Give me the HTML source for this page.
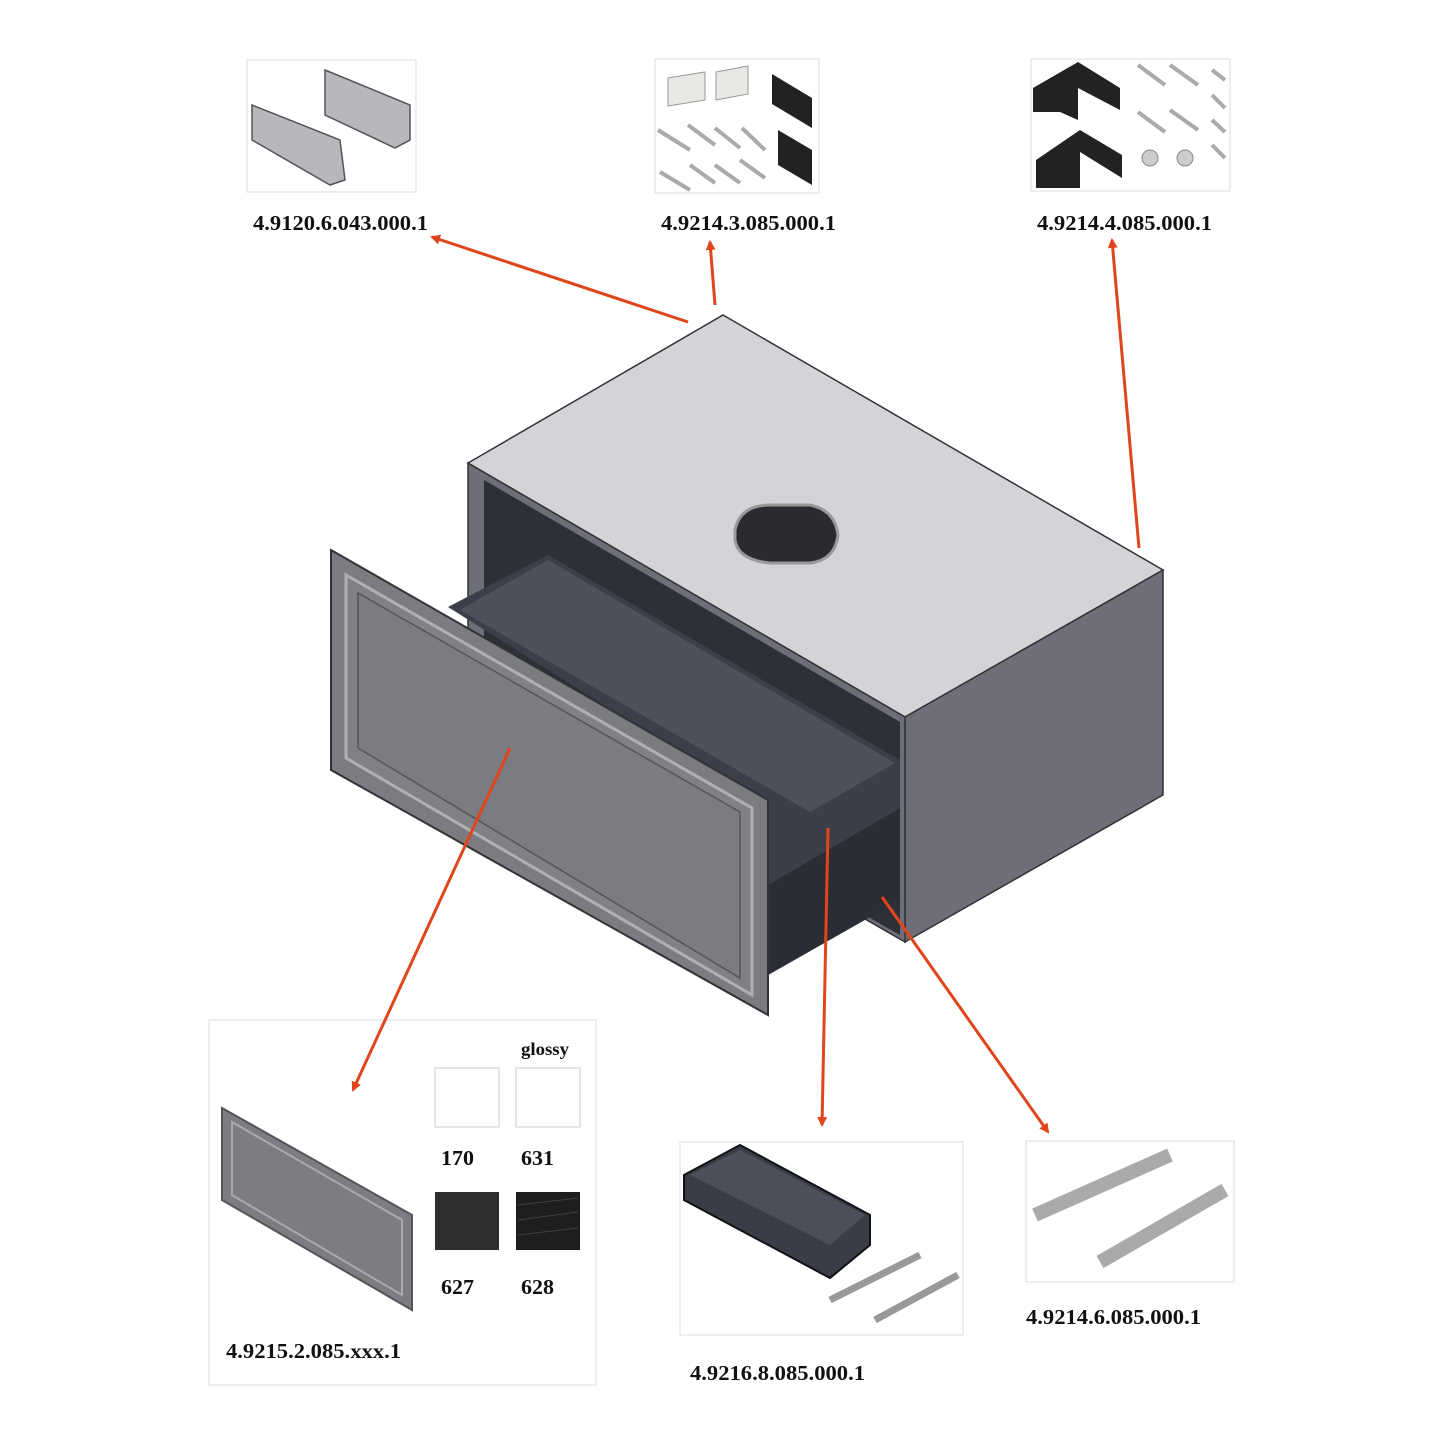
<!DOCTYPE html>
<html><head><meta charset="utf-8"><style>
html,body{margin:0;padding:0;background:#fff;}
svg{display:block}
text{font-family:"Liberation Serif",serif;font-weight:bold;fill:#111;}
</style></head><body>
<svg width="1445" height="1445" viewBox="0 0 1445 1445" xmlns="http://www.w3.org/2000/svg">
<defs>
<marker id="ah" markerWidth="10" markerHeight="10" refX="8" refY="5" orient="auto" markerUnits="userSpaceOnUse">
<path d="M0,0 L10,5 L0,10 Z" fill="#e0451c"/></marker>
</defs>
<g fill="#fff" stroke="#ddd" stroke-width="1">
<rect x="247" y="60" width="169" height="132"/>
<rect x="655" y="59" width="164" height="134"/>
<rect x="1031" y="59" width="199" height="132"/>
<rect x="209" y="1020" width="387" height="365"/>
<rect x="680" y="1142" width="283" height="193"/>
<rect x="1026" y="1141" width="208" height="141"/>
</g>
<g fill="#b8b8bc" stroke="#555" stroke-width="1.5">
<path d="M325,70 L410,105 L410,140 L395,148 L325,115 Z"/>
<path d="M252,105 L340,140 L345,180 L330,185 L252,140 Z"/>
</g>
<g>
<path d="M668,78 L705,72 L705,100 L668,106Z" fill="#e8e8e4" stroke="#999"/>
<path d="M716,72 L748,66 L748,94 L716,100Z" fill="#e8e8e4" stroke="#999"/>
<path d="M772,74 L812,98 L812,128 L772,104Z" fill="#222"/>
<path d="M778,130 L812,150 L812,185 L778,165Z" fill="#222"/>
<g stroke="#aaa" stroke-width="4"><line x1="658" y1="130" x2="690" y2="150"/><line x1="688" y1="125" x2="715" y2="145"/><line x1="715" y1="128" x2="740" y2="148"/><line x1="742" y1="128" x2="765" y2="150"/><line x1="660" y1="172" x2="690" y2="190"/><line x1="690" y1="165" x2="715" y2="183"/><line x1="715" y1="165" x2="740" y2="183"/><line x1="740" y1="160" x2="765" y2="178"/></g>
</g>
<g>
<path d="M1033,88 L1078,62 L1120,88 L1120,110 L1078,88 L1078,120 L1060,112 L1033,112Z" fill="#222"/>
<path d="M1036,160 L1080,130 L1122,155 L1122,178 L1080,152 L1080,188 L1036,188Z" fill="#222"/>
<g stroke="#aaa" stroke-width="4"><line x1="1138" y1="65" x2="1165" y2="85"/><line x1="1170" y1="65" x2="1198" y2="85"/><line x1="1212" y1="70" x2="1225" y2="80"/><line x1="1212" y1="95" x2="1225" y2="108"/><line x1="1138" y1="112" x2="1165" y2="132"/><line x1="1170" y1="110" x2="1198" y2="130"/><line x1="1212" y1="120" x2="1225" y2="132"/><line x1="1212" y1="145" x2="1225" y2="158"/></g>
<circle cx="1150" cy="158" r="8" fill="#ccc" stroke="#888"/><circle cx="1185" cy="158" r="8" fill="#ccc" stroke="#888"/>
</g>
<g font-size="21">
<text x="253" y="230" textLength="175" lengthAdjust="spacingAndGlyphs">4.9120.6.043.000.1</text>
<text x="661" y="230" textLength="175" lengthAdjust="spacingAndGlyphs">4.9214.3.085.000.1</text>
<text x="1037" y="230" textLength="175" lengthAdjust="spacingAndGlyphs">4.9214.4.085.000.1</text>
<text x="226" y="1358" textLength="175" lengthAdjust="spacingAndGlyphs">4.9215.2.085.xxx.1</text>
<text x="690" y="1380" textLength="175" lengthAdjust="spacingAndGlyphs">4.9216.8.085.000.1</text>
<text x="1026" y="1324" textLength="175" lengthAdjust="spacingAndGlyphs">4.9214.6.085.000.1</text>
<text x="441" y="1165" textLength="33" lengthAdjust="spacingAndGlyphs">170</text><text x="521" y="1165" textLength="33" lengthAdjust="spacingAndGlyphs">631</text>
<text x="441" y="1294" textLength="33" lengthAdjust="spacingAndGlyphs">627</text><text x="521" y="1294" textLength="33" lengthAdjust="spacingAndGlyphs">628</text>
<text x="521" y="1055" font-size="18" textLength="48" lengthAdjust="spacingAndGlyphs">glossy</text>
</g>
<rect x="435" y="1068" width="64" height="59" fill="#fff" stroke="#ccc"/>
<rect x="516" y="1068" width="64" height="59" fill="#fff" stroke="#ccc"/>
<rect x="435" y="1192" width="64" height="58" fill="#2e2e30"/>
<rect x="516" y="1192" width="64" height="58" fill="#1e1e20"/>
<g stroke="#555" stroke-width="1" opacity="0.6"><line x1="518" y1="1205" x2="578" y2="1198"/><line x1="518" y1="1220" x2="578" y2="1212"/><line x1="518" y1="1235" x2="578" y2="1228"/></g>
<path d="M222,1108 L412,1215 L412,1310 L222,1200Z" fill="#7c7c82" stroke="#555" stroke-width="2"/>
<path d="M232,1122 L402,1220 L402,1295 L232,1195Z" fill="none" stroke="#aaa" stroke-width="2"/>
<path d="M684,1175 L740,1145 L870,1215 L870,1245 L830,1278 L684,1200Z" fill="#3a3d47" stroke="#111" stroke-width="2"/>
<path d="M690,1175 L740,1150 L865,1215 L830,1245Z" fill="#4c505b"/>
<g stroke="#999" stroke-width="7"><line x1="830" y1="1300" x2="920" y2="1255"/><line x1="875" y1="1320" x2="958" y2="1275"/></g>
<g stroke="#aaa" stroke-width="14"><line x1="1035" y1="1215" x2="1170" y2="1155"/><line x1="1100" y1="1262" x2="1225" y2="1190"/></g>
<path d="M468,463 L723,315 L1163,570 L905,717Z" fill="#d4d4d8" stroke="#333" stroke-width="1.5"/>
<path d="M905,717 L1163,570 L1163,795 L905,942Z" fill="#6d6e78" stroke="#333" stroke-width="1.5"/>
<path d="M468,463 L905,717 L905,942 L468,690Z" fill="#6d6e78" stroke="#333" stroke-width="1.5"/>
<path d="M484,480 L900,722 L900,935 L484,700Z" fill="#2e3038"/>
<path d="M735,530 Q740,505 770,505 L810,505 Q835,510 838,535 Q835,560 810,563 L770,563 Q738,560 735,540Z" fill="#2a2b30" stroke="#999" stroke-width="3"/>
<path d="M448,607 L548,555 L900,760 L900,900 L768,975 L768,808Z" fill="#3c3f49"/>
<path d="M460,610 L548,560 L895,763 L810,812Z" fill="#4d515c"/>
<path d="M768,885 L900,808 L900,900 L768,975Z" fill="#2b2d35"/>
<path d="M331,550 L768,800 L768,1015 L331,770Z" fill="#7b7c82" stroke="#333" stroke-width="2"/>
<path d="M346,575 L752,808 L752,995 L346,758Z" fill="#808187" stroke="#b0b0b4" stroke-width="3"/>
<path d="M358,593 L740,812 L740,978 L358,748Z" fill="#7b7c82" stroke="#555" stroke-width="1.5"/>
<g stroke="#e0451c" stroke-width="3" fill="none" marker-end="url(#ah)">
<line x1="688" y1="322" x2="432" y2="237"/>
<line x1="715" y1="305" x2="710" y2="242"/>
<line x1="1139" y1="548" x2="1112" y2="240"/>
<line x1="510" y1="748" x2="353" y2="1090"/>
<line x1="828" y1="828" x2="822" y2="1125"/>
<line x1="882" y1="897" x2="1048" y2="1132"/>
</g>
</svg>
</body></html>
